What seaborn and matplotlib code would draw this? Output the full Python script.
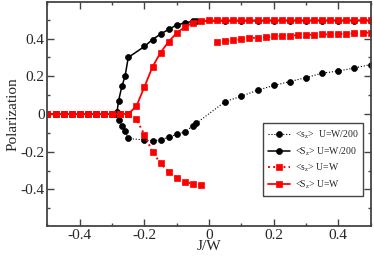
import seaborn as sns
import matplotlib.pyplot as plt
import pandas as pd
import numpy as np
from matplotlib.ticker import MultipleLocator, FuncFormatter

sns.set_style("ticks")
plt.rcParams['font.family'] = ['Liberation Serif', 'DejaVu Serif']
plt.rcParams['mathtext.fontset'] = 'custom'
plt.rcParams['mathtext.rm'] = 'Liberation Serif'
plt.rcParams['mathtext.default'] = 'regular'
plt.rcParams['axes.unicode_minus'] = False

# <s_z>, U=W/200 (black, dotted)
x_s_w200 = [-0.5, -0.475, -0.45, -0.425, -0.4, -0.375, -0.35, -0.325, -0.3, -0.29,
            -0.28, -0.27, -0.26, -0.25, -0.2, -0.175, -0.15, -0.125, -0.1, -0.075,
            -0.05, -0.04, 0.05, 0.1, 0.15, 0.2, 0.25, 0.3, 0.35, 0.4, 0.45, 0.5]
y_s_w200 = [0, 0, 0, 0, 0, 0, 0, 0, 0, 0,
            -0.03, -0.065, -0.09, -0.13, -0.138, -0.143, -0.137, -0.123, -0.108, -0.095,
            -0.063, -0.05, 0.066, 0.094, 0.126, 0.151, 0.172, 0.193, 0.216, 0.228, 0.244, 0.262]

# <S_z>, U=W/200 (black, solid)
x_S_w200 = [-0.5, -0.475, -0.45, -0.425, -0.4, -0.375, -0.35, -0.325, -0.3, -0.29,
            -0.285, -0.28, -0.27, -0.26, -0.25, -0.2, -0.175, -0.15, -0.125, -0.1,
            -0.075, -0.05, -0.04, 0.05, 0.1, 0.15, 0.2, 0.25, 0.3, 0.35, 0.4, 0.45, 0.5]
y_S_w200 = [0, 0, 0, 0, 0, 0, 0, 0, 0, 0,
            0.01, 0.07, 0.146, 0.2, 0.3, 0.358, 0.395, 0.424, 0.449, 0.472,
            0.483, 0.492, 0.493, 0.494, 0.494, 0.494, 0.495, 0.495, 0.495, 0.495, 0.495, 0.495, 0.495]

# <s_z>, U=W (red, dotted) - two branches
x_s_w_lo = [-0.5, -0.475, -0.45, -0.425, -0.4, -0.375, -0.35, -0.325, -0.3, -0.275,
            -0.25, -0.225, -0.2, -0.175, -0.15, -0.125, -0.1, -0.075, -0.05, -0.025]
y_s_w_lo = [0, 0, 0, 0, 0, 0, 0, 0, 0, 0,
            0, -0.028, -0.11, -0.202, -0.262, -0.307, -0.338, -0.361, -0.370, -0.376]
x_s_w_hi = [0.025, 0.05, 0.075, 0.1, 0.125, 0.15, 0.175, 0.2, 0.225, 0.25,
            0.275, 0.3, 0.325, 0.35, 0.375, 0.4, 0.425, 0.45, 0.475, 0.5]
y_s_w_hi = [0.380, 0.387, 0.391, 0.396, 0.402, 0.405, 0.407, 0.411, 0.414, 0.416,
            0.418, 0.419, 0.421, 0.422, 0.423, 0.424, 0.426, 0.428, 0.430, 0.432]

# <S_z>, U=W (red, solid)
x_S_w = [-0.5, -0.475, -0.45, -0.425, -0.4, -0.375, -0.35, -0.325, -0.3, -0.275,
         -0.25, -0.225, -0.2, -0.175, -0.15, -0.125, -0.1, -0.075, -0.05, -0.025,
         0.0, 0.025, 0.05, 0.075, 0.1, 0.125, 0.15, 0.175, 0.2, 0.225,
         0.25, 0.275, 0.3, 0.325, 0.35, 0.375, 0.4, 0.425, 0.45, 0.475, 0.5]
y_S_w = [0, 0, 0, 0, 0, 0, 0, 0, 0, 0,
         0, 0.041, 0.144, 0.25, 0.326, 0.384, 0.43, 0.461, 0.485, 0.493,
         0.496, 0.497, 0.497, 0.497, 0.497, 0.497, 0.497, 0.497, 0.497, 0.497,
         0.497, 0.497, 0.497, 0.497, 0.497, 0.497, 0.497, 0.497, 0.497, 0.497, 0.497]

labels = [r"<s$_z$>  U=W/200", r"<S$_z$> U=W/200", r"<s$_z$> U=W", r"<S$_z$> U=W"]

fig, ax = plt.subplots(figsize=(3.74, 2.59), dpi=100)
fig.subplots_adjust(left=0.127, right=0.991, top=0.993, bottom=0.127)

black = dict(color="black", marker="o", markersize=4.3, markeredgecolor="black", markeredgewidth=0.5)
red = dict(color="red", marker="s", markersize=3.9, markeredgecolor="red", markeredgewidth=0.5)

sns.lineplot(x=x_s_w200, y=y_s_w200, ax=ax, linestyle=":", linewidth=0.8, label=labels[0], **black)
sns.lineplot(x=x_S_w200, y=y_S_w200, ax=ax, linestyle="-", linewidth=1.1, label=labels[1], **black)
sns.lineplot(x=x_s_w_lo, y=y_s_w_lo, ax=ax, linestyle=":", linewidth=1.4, label=labels[2], **red)
sns.lineplot(x=x_s_w_hi, y=y_s_w_hi, ax=ax, linestyle=":", linewidth=1.4, **red)
sns.lineplot(x=x_S_w, y=y_S_w, ax=ax, linestyle="-", linewidth=1.3, label=labels[3], **red)

ax.set_xlim(-0.5, 0.5)
ax.set_ylim(-0.595, 0.595)
ax.xaxis.set_major_locator(MultipleLocator(0.2))
ax.xaxis.set_minor_locator(MultipleLocator(0.1))
ax.yaxis.set_major_locator(MultipleLocator(0.2))
ax.yaxis.set_minor_locator(MultipleLocator(0.1))
fmt = FuncFormatter(lambda v, _: f"{round(v, 2):g}")
ax.xaxis.set_major_formatter(fmt)
ax.yaxis.set_major_formatter(fmt)
ax.tick_params(which="both", direction="in", top=True, right=True, width=1, color="#444444",
               labelsize=11, pad=2)
ax.tick_params(which="major", length=5)
ax.tick_params(which="minor", length=2.5)
for s in ax.spines.values():
    s.set_linewidth(1.3)
    s.set_color("#444444")

ax.set_xlabel("J/W", fontsize=11, labelpad=-1)
ax.set_ylabel("Polarization", fontsize=11, labelpad=1)

handles, labs = ax.get_legend_handles_labels()
leg = ax.legend(handles, labs, loc="lower right", bbox_to_anchor=(0.992, 0.112),
                fontsize=7, frameon=True, fancybox=False, framealpha=1,
                edgecolor="#444444", handlelength=2.2, borderpad=0.5, labelspacing=0.45,
                handletextpad=0.5)
leg.get_frame().set_linewidth(1.0)

plt.savefig("out.png", dpi=100)
plt.close()
